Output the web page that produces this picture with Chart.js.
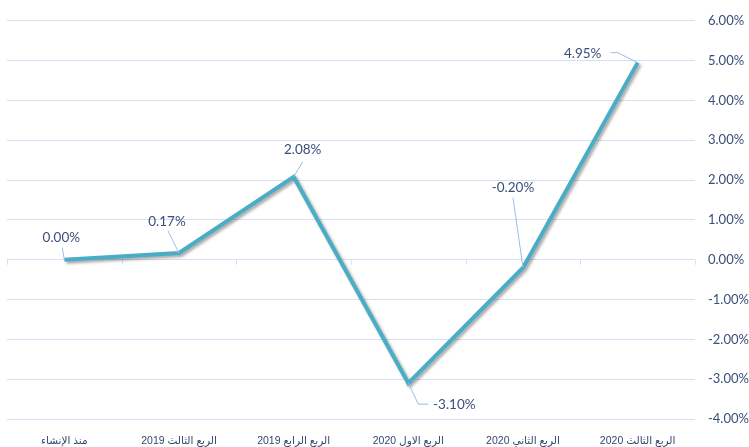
<!DOCTYPE html>
<html>
<head>
<meta charset="utf-8">
<script src="https://cdn.jsdelivr.net/npm/chart.js@4"></script>
<style>
  html, body { margin: 0; padding: 0; background: #ffffff; }
  #wrap { width: 749px; height: 447px; }
</style>
</head>
<body>
<div id="wrap"><canvas id="myChart" width="749" height="447"></canvas></div>
<script>
const categories = ["منذ الإنشاء", "الربع الثالث 2019", "الربع الرابع 2019", "الربع الاول 2020", "الربع الثاني 2020", "الربع الثالث 2020"]
const returns = [0.00, 0.17, 2.08, -3.10, -0.20, 4.95]
const yMin = -4
const yMax = 6
const yStep = 1

// label placement relative to each point (text centre, leader polyline)
const labelOffsets = [[-3, -22], [-12, -31], [9, -27], [46, 21], [-10, -80], [-55, -9]]
const leaderLines = [
    [[0, 0], [-2, -12]],
    [[0, 0], [-11, -22]],
    [[0, 0], [9, -15]],
    [[0, 0], [10, 21], [20, 21]],
    [[0, 0], [-10, -70]],
    [[0, 0], [-20, -10], [-27, -10]]
]

const textColor = "#3a4f78"
const gridColor = "#d5e0f2"

const shadowPlugin = {
    id: "lineShadow",
    beforeDatasetDraw(chart) {
        let ctx = chart.ctx
        ctx.save()
        ctx.shadowColor = "rgba(0,0,0,0.35)"
        ctx.shadowBlur = 3
        ctx.shadowOffsetX = 2
        ctx.shadowOffsetY = 2
    },
    afterDatasetDraw(chart) {
        chart.ctx.restore()
    }
}

const zeroTicks = {
    id: "zeroTicks",
    beforeDatasetsDraw(chart) {
        let ctx = chart.ctx
        let xs = chart.scales.x
        let y0 = chart.scales.y.getPixelForValue(0)
        let half = (xs.getPixelForValue(1) - xs.getPixelForValue(0)) / 2
        ctx.save()
        ctx.strokeStyle = gridColor
        ctx.lineWidth = 1
        for (let i = 0; i <= categories.length; i++) {
            let x = Math.round(xs.getPixelForValue(0) - half + i * half * 2) + 0.5
            ctx.beginPath()
            ctx.moveTo(x, y0)
            ctx.lineTo(x, y0 + 5)
            ctx.stroke()
        }
        ctx.restore()
    }
}

const dataLabels = {
    id: "dataLabels",
    afterDatasetsDraw(chart) {
        let ctx = chart.ctx
        let meta = chart.getDatasetMeta(0)
        ctx.save()
        meta.data.forEach(function (pt, i) {
            let px = pt.x, py = pt.y
            ctx.strokeStyle = "#9dbde6"
            ctx.lineWidth = 1
            ctx.beginPath()
            leaderLines[i].forEach(function (p, j) {
                if (j === 0) ctx.moveTo(px + p[0], py + p[1])
                else ctx.lineTo(px + p[0], py + p[1])
            })
            ctx.stroke()
            ctx.fillStyle = textColor
            ctx.font = "13.5px Lato"
            ctx.textAlign = "center"
            ctx.textBaseline = "middle"
            ctx.fillText(returns[i].toFixed(2) + "%", px + labelOffsets[i][0], py + labelOffsets[i][1])
        })
        ctx.restore()
    }
}

let ctx = document.getElementById("myChart").getContext("2d")
new Chart(ctx, {
    type: "line",
    data: {
        labels: categories,
        datasets: [{
            data: returns,
            borderColor: "#4bacc6",
            borderWidth: 4,
            borderJoinStyle: "miter",
            pointRadius: 0,
            tension: 0,
            fill: false
        }]
    },
    options: {
        responsive: false,
        animation: false,
        layout: { padding: { top: 19, left: 7, right: 0, bottom: 0 } },
        plugins: {
            legend: { display: false },
            tooltip: { enabled: false }
        },
        scales: {
            x: {
                offset: true,
                grid: { display: false },
                border: { display: false },
                ticks: {
                    color: "#34466d",
                    font: { family: "'Liberation Sans', 'DejaVu Sans'", size: 10.5 },
                    maxRotation: 0,
                    padding: 8
                },
                afterFit(scale) { scale.height = 28 }
            },
            y: {
                position: "right",
                min: yMin,
                max: yMax,
                ticks: {
                    stepSize: yStep,
                    color: textColor,
                    font: { family: "Lato", size: 13 },
                    padding: 13,
                    callback: function (v) { return v.toFixed(2) + "%" }
                },
                grid: { color: gridColor, drawTicks: false },
                border: { display: false },
                afterFit(scale) { scale.width = 54 }
            }
        }
    },
    plugins: [shadowPlugin, zeroTicks, dataLabels]
})
</script>
</body>
</html>
